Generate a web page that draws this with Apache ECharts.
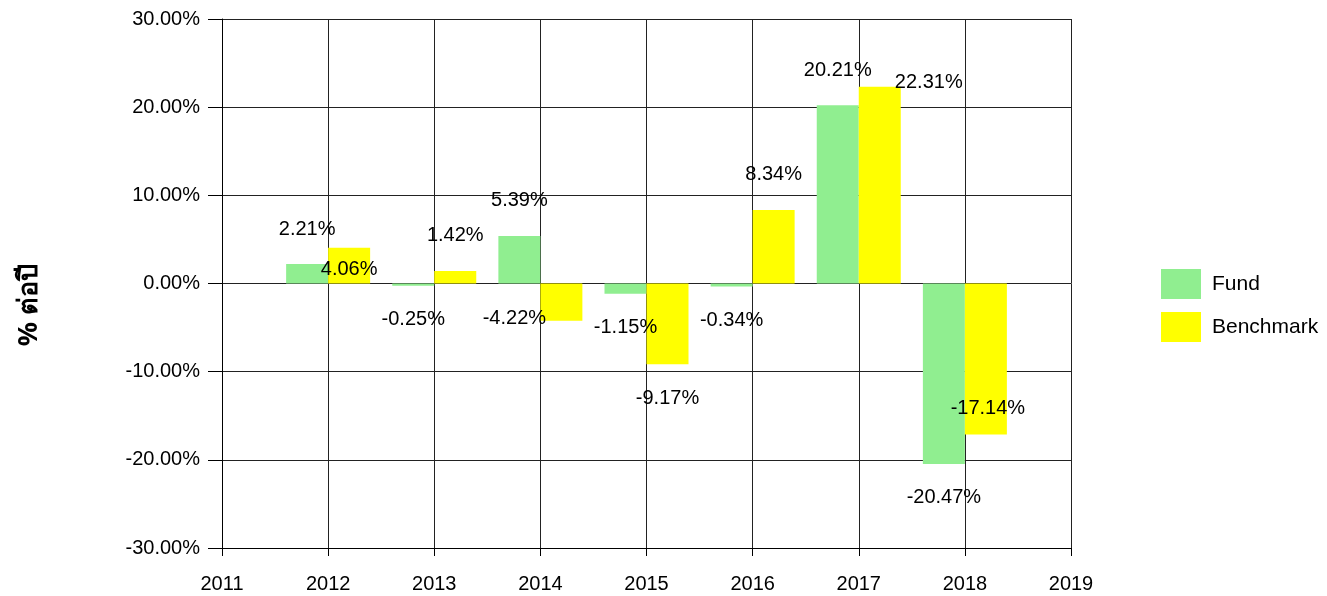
<!DOCTYPE html>
<html>
<head>
<meta charset="utf-8">
<script src="https://cdn.jsdelivr.net/npm/echarts@6/dist/echarts.min.js"></script>
<style>
  html, body { margin: 0; padding: 0; background: #fff; }
  #chart { width: 1327px; height: 596px; }
</style>
</head>
<body>
<div id="chart"></div>
<script>
// years on the axis (2011 and 2019 are empty ends)
var years = ['2011', '2012', '2013', '2014', '2015', '2016', '2017', '2018', '2019'];
var fund = [null, 2.21, -0.25, 5.39, -1.15, -0.34, 20.21, -20.47, null];
var benchmark = [null, 4.06, 1.42, -4.22, -9.17, 8.34, 22.31, -17.14, null];
var yTicks = [-30, -20, -10, 0, 10, 20, 30];

var FONT = 'Liberation Sans, Arial, sans-serif';

// labels that got pushed around in the original so they don't collide
var nudge = {
  Benchmark: { 1: [0, 57], 3: [-47, -36], 6: [49, 31], 7: [2, -60] }
};

function buildData(name, values) {
  return values.map(function (v, i) {
    if (v == null) return '-';
    var lbl = {
      position: v >= 0 ? 'top' : 'bottom',
      distance: v >= 0 ? 25 : 24
    };
    if (nudge[name] && nudge[name][i]) lbl.offset = nudge[name][i];
    return { value: v, label: lbl };
  });
}

var myChart = echarts.init(document.getElementById('chart'));

var labelStyle = {
  show: true,
  color: '#000',
  fontFamily: FONT,
  fontSize: 20,
  formatter: function (p) { return p.value.toFixed(2) + '%'; }
};

var option = {
  animation: false,
  backgroundColor: '#fff',
  grid: { left: 222, right: 256, top: 19, bottom: 48 },
  graphic: [
    {
      // y axis title, sits a bit below the middle like the original
      type: 'text',
      x: 29,
      y: 305,
      rotation: Math.PI / 2,
      style: {
        text: '% ต่อปี',
        fontFamily: 'Noto Sans, DejaVu Sans, sans-serif',
        fontSize: 27,
        fontWeight: 'bold',
        fill: '#000',
        align: 'center',
        verticalAlign: 'middle'
      }
    }
  ],
  legend: {
    orient: 'vertical',
    left: 1161,
    top: 269,
    padding: 0,
    itemWidth: 40,
    itemHeight: 30,
    itemGap: 13,
    icon: 'rect',
    textStyle: { fontFamily: FONT, fontSize: 21, color: '#000', padding: [0, 0, 0, 6] },
    data: ['Fund', 'Benchmark']
  },
  xAxis: {
    type: 'category',
    data: years,
    boundaryGap: false,
    axisLine: { onZero: false, lineStyle: { color: '#000', width: 1 } },
    axisTick: { show: true, length: 8, alignWithLabel: true, lineStyle: { color: '#000' } },
    axisLabel: { color: '#000', fontFamily: FONT, fontSize: 20, margin: 26 },
    splitLine: { show: true, lineStyle: { color: '#222', width: 1 } }
  },
  yAxis: {
    type: 'value',
    min: yTicks[0],
    max: yTicks[yTicks.length - 1],
    interval: 10,
    axisLine: { show: true, lineStyle: { color: '#000', width: 1 } },
    axisTick: { show: true, length: 14, lineStyle: { color: '#000' } },
    axisLabel: {
      color: '#000', fontFamily: FONT, fontSize: 20, margin: 22,
      formatter: function (v) { return v.toFixed(2) + '%'; }
    },
    splitLine: { show: true, lineStyle: { color: '#222', width: 1 } }
  },
  series: [
    {
      name: 'Fund',
      type: 'bar',
      barWidth: 42,
      barGap: '0%',
      itemStyle: { color: '#90EE90' },
      label: labelStyle,
      data: buildData('Fund', fund)
    },
    {
      name: 'Benchmark',
      type: 'bar',
      barWidth: 42,
      barGap: '0%',
      itemStyle: { color: '#FFFF00' },
      label: labelStyle,
      data: buildData('Benchmark', benchmark)
    }
  ]
};

option && myChart.setOption(option);
</script>
</body>
</html>
